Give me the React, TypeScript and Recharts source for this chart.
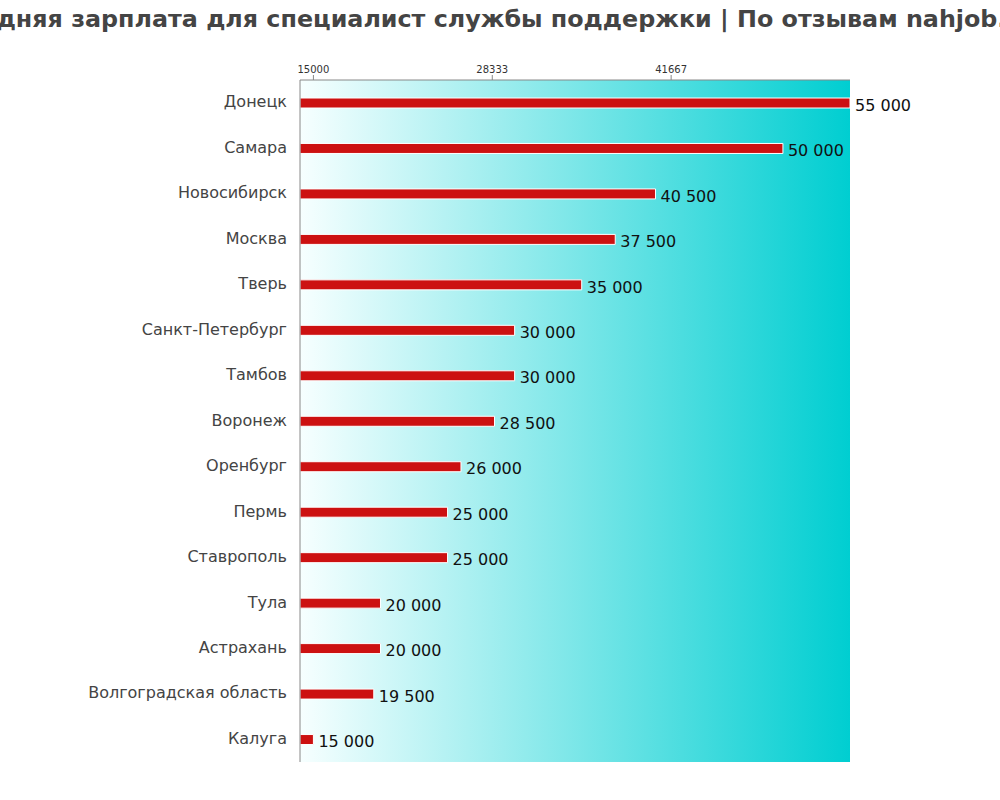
import { BarChart, Bar, XAxis, YAxis, CartesianGrid, LabelList } from 'recharts';

const cities = [
  'Донецк', 'Самара', 'Новосибирск', 'Москва', 'Тверь',
  'Санкт-Петербург', 'Тамбов', 'Воронеж', 'Оренбург', 'Пермь',
  'Ставрополь', 'Тула', 'Астрахань', 'Волгоградская область', 'Калуга',
];
const salaries = [
  55000, 50000, 40500, 37500, 35000,
  30000, 30000, 28500, 26000, 25000,
  25000, 20000, 20000, 19500, 15000,
];
const xTicks = [15000, 28333, 41667];
const xDomain = [14000, 55000];

const data = cities.map((city, i) => ({ city, salary: salaries[i] }));

const fmt = (v: number) => String(v).replace(/\B(?=(\d{3})+(?!\d))/g, ' ');

export default function App() {
  return (
    <div style={{ position: 'absolute', left: 0, top: 0, width: 1000, height: 800, background: '#fff', fontFamily: '"DejaVu Sans", sans-serif', overflow: 'hidden' }}>
      <div style={{
        position: 'absolute', left: -54, top: 5,
        whiteSpace: 'nowrap', fontSize: 23.8, fontWeight: 'bold', color: '#444',
      }}>
        Средняя зарплата для специалист службы поддержки | По отзывам nahjob.ru
      </div>
      <BarChart
        width={1000} height={800} data={data} layout="vertical"
        margin={{ top: 55, right: 150, bottom: 38, left: 0 }}
        barCategoryGap={0}
      >
        <defs>
          <linearGradient id="bg" x1="0" y1="0" x2="1" y2="0">
            <stop offset="0%" stopColor="#f7ffff" />
            <stop offset="100%" stopColor="#00ced1" />
          </linearGradient>
        </defs>
        <CartesianGrid horizontal={false} vertical={false} fill="url(#bg)" />
        <XAxis
          type="number" orientation="top" domain={xDomain} ticks={xTicks}
          allowDataOverflow height={25}
          tick={{ fontSize: 10, fill: '#333' }} tickSize={5}
          stroke="#888"
        />
        <YAxis
          type="category" dataKey="city" width={300}
          tick={{ fontSize: 16, fill: '#444', dy: -1 }} tickLine={false} tickMargin={7}
          stroke="#888"
        />
        <Bar dataKey="salary" fill="#cc1111" stroke="#fff" strokeWidth={1} barSize={10} isAnimationActive={false}>
          <LabelList dataKey="salary" position="right" formatter={fmt} style={{ fontSize: 16, fill: '#111' }} offset={5} dy={2} />
        </Bar>
      </BarChart>
    </div>
  );
}
